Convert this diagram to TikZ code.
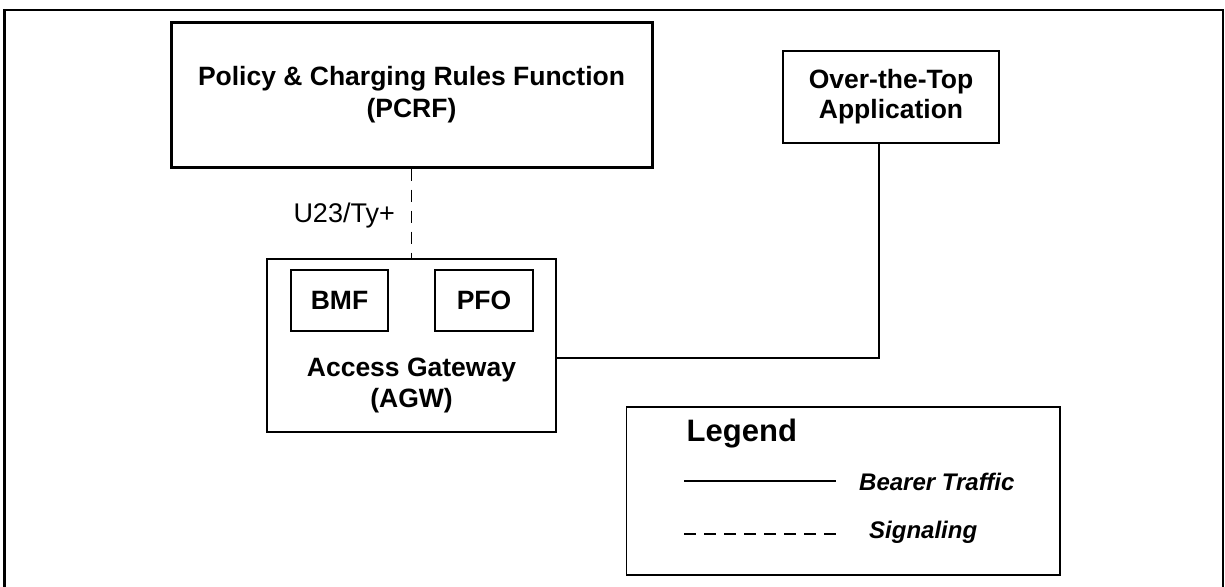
\documentclass[tikz,border=0pt]{standalone}
\usepackage{fontspec}
\setmainfont{Liberation Sans}
\begin{document}
\begin{tikzpicture}[x=1pt,y=-1pt,
  thin line/.style={line width=1.3pt},
  box/.style={draw, line width=1.3pt, inner sep=0pt, align=center,
    font=\bfseries\fontsize{26.5}{31}\selectfont},
  heavybox/.style={box, line width=3pt},
  fnbox/.style={box, line width=2.5pt},
  signal/.style={thin line, dash pattern=on 12pt off 9pt},
  lbl/.style={inner sep=0pt, anchor=base west}]
\useasboundingbox (0,0) rectangle (1225,586);
\begin{scope}
  \clip (0,0) rectangle (1225,586);
  % page frame, open below the visible area
  \draw[line width=2.5pt] (4.7,620) -- (4.7,10) -- (1223,10) -- (1223,620);
\end{scope}

% main network elements
\node[heavybox, minimum width=481pt, minimum height=144pt,
      font=\bfseries\fontsize{26.5}{32}\selectfont] (pcrf) at (411.5,95)
  {Policy \& Charging Rules Function\\(PCRF)};
\node[box, minimum width=216pt, minimum height=92pt,
      font=\bfseries\fontsize{26.5}{30}\selectfont] (ott) at (891,97)
  {Over-the-Top\\Application};
\node[box, minimum width=289pt, minimum height=173pt] (agw) at (411.5,345.5) {};
\node[fnbox, minimum width=97pt, minimum height=61pt] (bmf) at (339.5,300.5) {BMF};
\node[fnbox, minimum width=98pt, minimum height=61pt] (pfo) at (484,300.5) {PFO};
\node[inner sep=0pt, align=center, font=\bfseries\fontsize{26.5}{31.6}\selectfont]
  (agwlabel) at (411.5,385.5) {Access Gateway\\(AGW)};

% signalling interface PCRF -- AGW
\draw[signal] (pcrf.south) -- (agw.north);
\node[inner sep=0pt, anchor=base east, font=\fontsize{27}{32}\selectfont]
  (iface) at (395,222.7) {U23/Ty+};

% bearer path AGW -- OTT application
\coordinate (bend) at (879,358);
\draw[thin line] (agw.east |- bend) -- (bend) -- (bend |- ott.south);

% legend
\node[box, minimum width=433.5pt, minimum height=168pt] (legend) at (843.25,491) {};
\node[lbl, font=\bfseries\fontsize{31}{36}\selectfont] (legtitle) at (686.5,441.7) {Legend};
\coordinate (b1) at (684,481);
\coordinate (b2) at (836,481);
\coordinate (s1) at (684,534);
\coordinate (s2) at (836,534);
\draw[thin line] (b1) -- (b2);
\draw[thin line, dash pattern=on 12pt off 8pt] (s1) -- (s2);
\node[lbl, font=\bfseries\itshape\fontsize{24}{28}\selectfont] (legbearer) at (859,490) {Bearer Traffic};
\node[lbl, font=\bfseries\itshape\fontsize{24}{28}\selectfont] (legsignal) at (869,538) {Signaling};
\end{tikzpicture}
\end{document}
